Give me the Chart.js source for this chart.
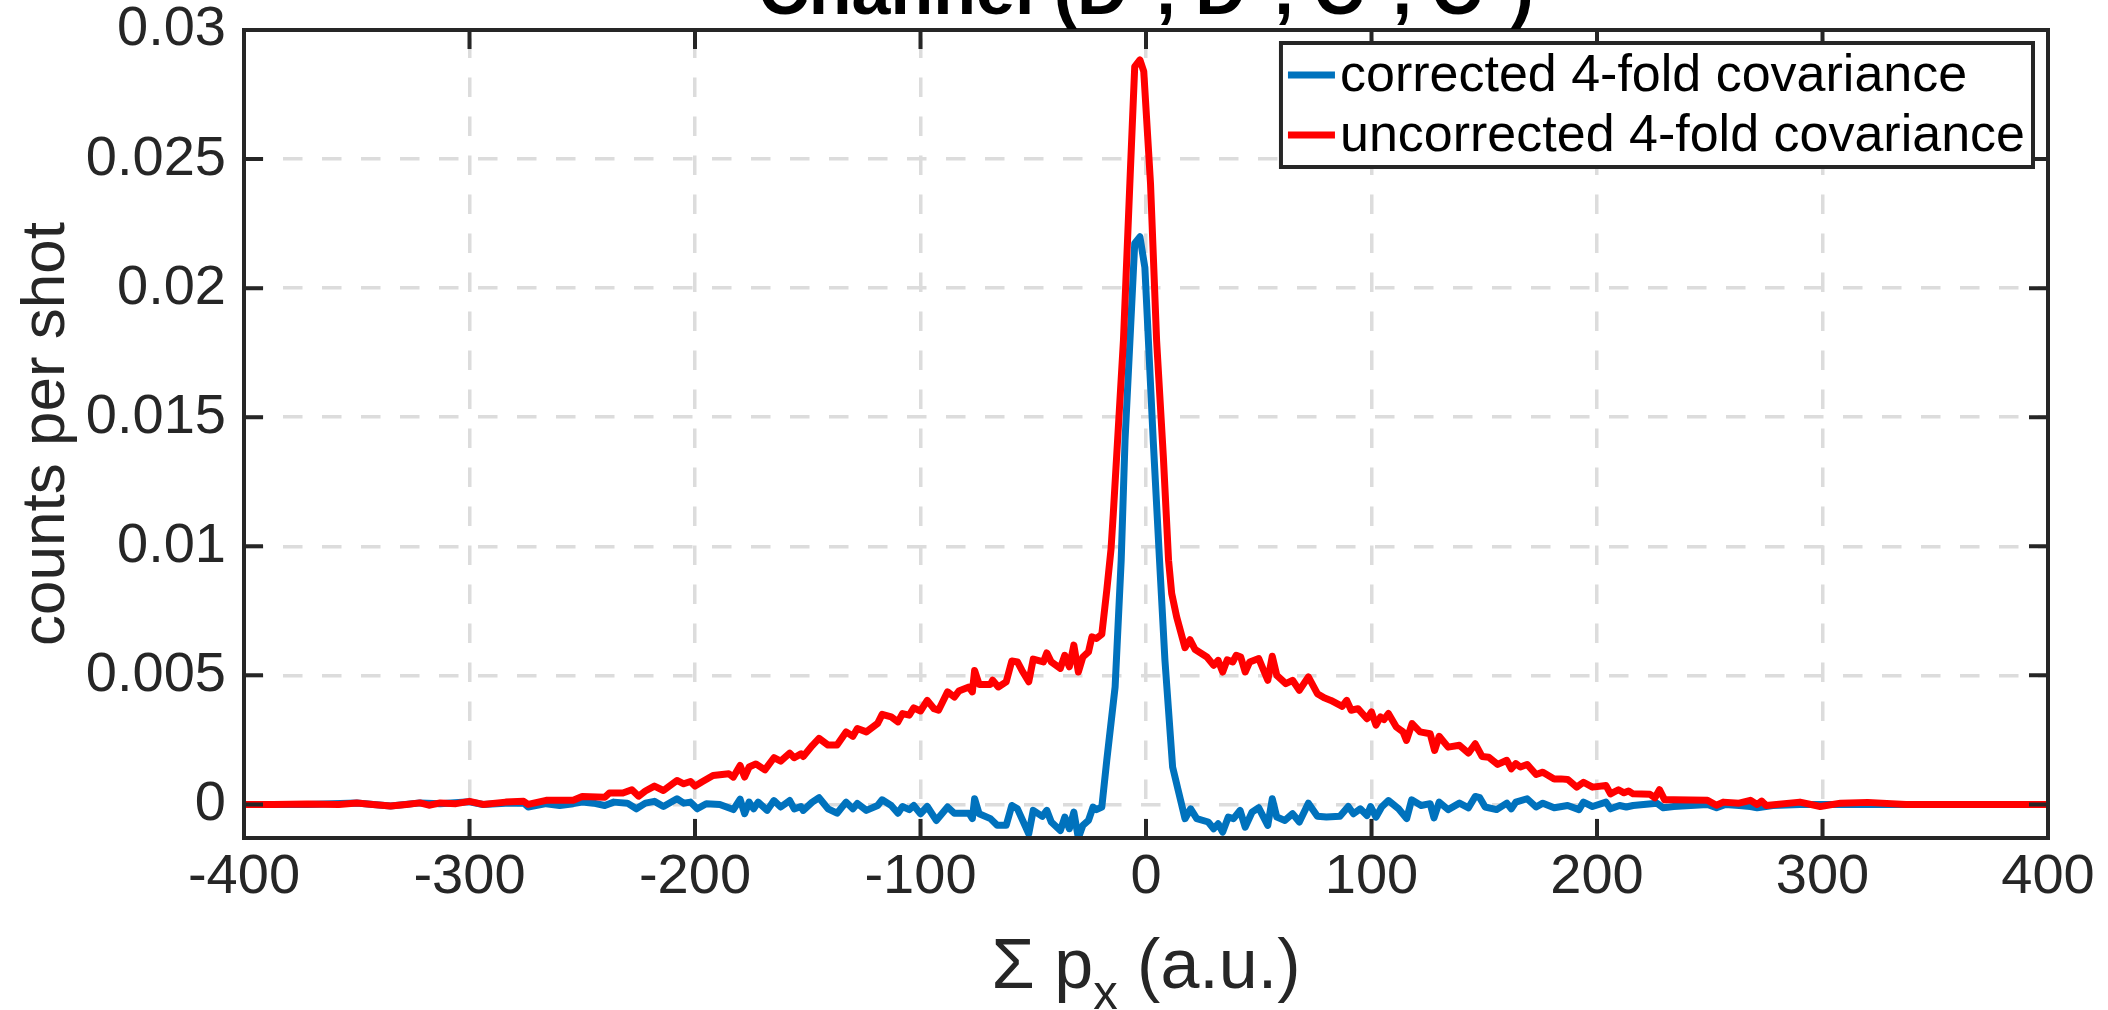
<!DOCTYPE html>
<html>
<head>
<meta charset="utf-8">
<title>Channel (D+, D+, C+, C+)</title>
<script src="https://cdn.jsdelivr.net/npm/chart.js@4.4.1/dist/chart.umd.min.js"></script>
<style>
  html, body { margin: 0; padding: 0; background: #fff; overflow: hidden; }
  #wrap { width: 2108px; height: 1010px; }
</style>
</head>
<body>
<div id="wrap"><canvas id="covChart" width="2108" height="1010"></canvas></div>
<script>
// axis ticks
const xTicks = [-400, -300, -200, -100, 0, 100, 200, 300, 400];
const xTickLabels = ['-400', '-300', '-200', '-100', '0', '100', '200', '300', '400'];
const yTicks = [0, 0.005, 0.01, 0.015, 0.02, 0.025, 0.03];
const yTickLabels = ['0', '0.005', '0.01', '0.015', '0.02', '0.025', '0.03'];

// series, y values in units of 1e-3 counts per shot
const correctedX = [-400,-372,-350,-335,-322,-313,-300,-294,-284,-276,
  -274,-266,-260,-254,-250,-245,-240,-236,-230,-226,
  -222,-218,-214,-208,-205,-202,-199,-195,-189,-183,
  -180,-178,-176,-174,-172,-168,-165,-162,-158,-156,
  -153,-152,-148,-145,-141,-137,-133,-130,-128,-124,
  -119,-117,-113,-110,-108,-105,-103,-100,-97,-93,
  -88,-85,-78.5,-77,-76,-74,-69,-66,-62,-59.5,
  -57,-52,-50,-46,-44,-42,-38,-36,-34,-32,
  -30,-28,-25.5,-23.5,-22,-19.6,-17.4,-13.7,-11,-9.3,
  -5,-2.7,-0.5,3.2,6,8.4,11.8,14.3,17.3,19.8,
  22.5,27.6,30,32,34,36.5,38.8,41.7,44,47,
  50,54,56,58,61.6,65,68,72,76,80,
  86,89.7,92,95,98,99.6,102,104.5,107.5,112,
  115.6,117.8,122,126,127.7,130,134,139,143,146,
  148,150.4,155.5,160,162,164,169,173,176,181,
  187,192,194,198,204,206,210,213,216,226.5,
  229.4,234,249,253,257,263,268,271,278,290,
  400];
const correctedY = [0,0,0.06,-0.06,0.06,0.03,0.1,0,0.05,0.06,
  -0.1,0.03,-0.04,0.03,0.09,0.05,-0.04,0.09,0.05,-0.17,
  0.05,0.12,-0.08,0.22,0.05,0.09,-0.17,0.03,0,-0.2,
  0.2,-0.36,0.09,-0.17,0.09,-0.23,0.15,-0.1,0.15,-0.17,
  -0.08,-0.23,0.09,0.26,-0.17,-0.34,0.09,-0.17,0.04,-0.23,
  -0.04,0.18,-0.04,-0.34,-0.08,-0.2,-0.04,-0.36,-0.08,-0.62,
  -0.1,-0.34,-0.34,-0.55,0.22,-0.36,-0.55,-0.81,-0.81,-0.04,
  -0.17,-1.14,-0.23,-0.46,-0.23,-0.68,-1.01,-0.49,-0.94,-0.3,
  -1.3,-0.81,-0.62,-0.1,-0.2,-0.1,1.71,4.55,9.46,14.1,
  21.73,21.99,20.8,14.1,9.46,5.58,1.45,0.54,-0.55,-0.17,
  -0.55,-0.68,-0.94,-0.75,-1.07,-0.49,-0.55,-0.23,-0.88,-0.3,
  -0.13,-0.81,0.22,-0.49,-0.62,-0.36,-0.68,0.05,-0.46,-0.49,
  -0.46,-0.08,-0.36,-0.17,-0.43,-0.08,-0.49,-0.1,0.15,-0.17,
  -0.55,0.18,-0.04,0.03,-0.52,0.09,-0.2,0.05,-0.13,0.31,
  0.26,-0.1,-0.2,0.05,-0.17,0.09,0.22,-0.1,0.05,-0.13,
  -0.04,-0.2,0.09,-0.08,0.09,-0.17,-0.04,-0.1,-0.04,0.05,
  -0.13,-0.08,0,-0.13,0,-0.04,-0.08,-0.13,-0.04,0,
  0];

const uncorrectedX = [-400,-387,-372,-358,-350,-343,-335,-328,-322,-318,
  -313,-306,-300,-294,-284,-276,-274,-266,-260,-254,
  -250,-240,-238,-232,-228,-225,-222,-218,-214,-208,
  -205,-202,-200,-197,-192,-185,-183,-180,-178,-176,
  -173,-169,-165,-162,-158,-156,-153,-152,-148,-145,
  -141,-137,-133,-130,-128,-124,-119,-117,-113,-110,
  -108,-105,-103,-100,-97,-94,-92,-88,-85,-83,
  -78.5,-77,-76,-74,-69,-68,-65.5,-62,-59.5,-57,
  -55,-52,-50,-45.5,-44,-42,-38,-36,-34,-32,
  -30,-28,-25.5,-24,-22,-19.6,-17.4,-15.5,-14.5,-10,
  -7,-5,-2.7,-1,2,4.7,7.7,10,11.4,13.6,
  17.3,19.5,21.8,27,30,32,34,36,38.5,40,
  42,44,46,50,54,56,58,62,65,68,
  72,76,79,82,87,89,91,94,98,100,
  102,104,105.5,107.5,111,114,115.5,118,121.5,126,
  128,130,134,139,143,146,149,152,156,160,
  162,164,166,169,173,176,181,184,187,191,
  194,198,204,206,209.5,212,214,216,223.5,225.7,
  227.7,230,234,249,253,256,263,268,271,273,
  275,290,299,308,320,337,367,400];
const uncorrectedY = [0,0,0.02,0,0.06,0,-0.06,0,0.06,-0.03,
  0.06,0.03,0.12,0,0.09,0.12,0,0.16,0.16,0.16,
  0.31,0.28,0.44,0.44,0.57,0.32,0.52,0.71,0.54,0.93,
  0.80,0.89,0.71,0.87,1.12,1.19,1.06,1.51,1.06,1.45,
  1.57,1.34,1.81,1.68,1.99,1.81,1.96,1.86,2.28,2.56,
  2.30,2.30,2.81,2.64,2.94,2.81,3.14,3.49,3.39,3.20,
  3.52,3.46,3.74,3.62,4.03,3.71,3.65,4.36,4.16,4.39,
  4.55,4.36,5.19,4.65,4.65,4.81,4.55,4.75,5.56,5.52,
  5.19,4.75,5.63,5.52,5.87,5.52,5.27,5.78,5.33,6.17,
  5.13,5.71,5.91,6.49,6.43,6.59,8.29,9.9,11.27,17.98,
  24.4,28.58,28.84,28.4,24.06,17.98,13.46,9.46,8.17,7.26,
  6.07,6.38,6.0,5.71,5.39,5.58,5.13,5.6,5.52,5.78,
  5.71,5.13,5.52,5.65,4.81,5.74,5.0,4.68,4.81,4.42,
  4.94,4.29,4.13,4.03,3.80,4.03,3.65,3.71,3.32,3.58,
  3.07,3.39,3.29,3.52,3.0,2.81,2.48,3.13,2.81,2.74,
  2.09,2.64,2.22,2.29,1.99,2.35,1.86,1.83,1.55,1.71,
  1.38,1.58,1.45,1.55,1.16,1.25,0.99,0.99,0.97,0.67,
  0.86,0.67,0.73,0.41,0.57,0.45,0.52,0.41,0.39,0.26,
  0.57,0.18,0.18,0.16,-0.03,0.09,0.05,0.16,0,0.13,
  -0.04,0.09,-0.08,0.05,0.08,0,0,0];

const FONT = "'Liberation Sans', Arial, Helvetica, sans-serif";
const AXIS_COLOR = '#262626';
const GRID_COLOR = '#dcdcdc';
const TICK_LEN = 19;

function toPoints(xs, ys) {
  return xs.map((x, i) => ({ x: x, y: ys[i] / 1000 }));
}

// draw pieces of text with optional sub/superscript, centred on cx
function drawRich(ctx, parts, cx, baseline, size, weight) {
  const fontFor = p => `${weight} ${p.sub || p.sup ? Math.round(size * 0.7) : size}px ${FONT}`;
  let total = 0;
  parts.forEach(p => { ctx.font = fontFor(p); total += ctx.measureText(p.t).width; });
  let x = cx - total / 2;
  parts.forEach(p => {
    ctx.font = fontFor(p);
    let dy = 0;
    if (p.sub) dy = size * 0.3;
    if (p.sup) dy = -size * 0.42;
    ctx.fillText(p.t, x, baseline + dy);
    x += ctx.measureText(p.t).width;
  });
}

const matlabLook = {
  id: 'matlabLook',
  afterDatasetsDraw(chart) {
    const { ctx, chartArea: a, scales: { x, y } } = chart;
    ctx.save();
    ctx.strokeStyle = AXIS_COLOR;
    ctx.lineWidth = 4;
    ctx.lineCap = 'butt';
    // inward ticks on all four sides
    ctx.beginPath();
    xTicks.forEach(v => {
      const px = x.getPixelForValue(v);
      ctx.moveTo(px, a.bottom); ctx.lineTo(px, a.bottom - TICK_LEN);
      ctx.moveTo(px, a.top); ctx.lineTo(px, a.top + TICK_LEN);
    });
    yTicks.forEach(v => {
      const py = y.getPixelForValue(v);
      ctx.moveTo(a.left, py); ctx.lineTo(a.left + TICK_LEN, py);
      ctx.moveTo(a.right, py); ctx.lineTo(a.right - TICK_LEN, py);
    });
    ctx.stroke();
    ctx.strokeRect(a.left, a.top, a.right - a.left, a.bottom - a.top);
    ctx.restore();
  },
  afterDraw(chart) {
    const { ctx, chartArea: a } = chart;
    const cx = (a.left + a.right) / 2;
    ctx.save();

    // title, mostly cut off by the top edge like in the figure
    ctx.fillStyle = '#000';
    ctx.textBaseline = 'alphabetic';
    drawRich(ctx, [
      { t: 'Channel (D' }, { t: '+', sup: true }, { t: ', D' }, { t: '+', sup: true },
      { t: ', C' }, { t: '+', sup: true }, { t: ', C' }, { t: '+', sup: true }, { t: ')' }
    ], cx, 14, 70, 'bold');

    // x axis label with subscript
    ctx.fillStyle = AXIS_COLOR;
    drawRich(ctx, [{ t: '\u03A3 p' }, { t: 'x', sub: true }, { t: ' (a.u.)' }], cx, 988, 70, 'normal');

    // legend box inside the axes, top right
    const sets = chart.data.datasets;
    const legSize = 52;
    ctx.font = `${legSize}px ${FONT}`;
    const textW = Math.max(...sets.map(d => ctx.measureText(d.label).width));
    const lineLen = 47;
    const w = 7 + lineLen + 5 + textW + 8;
    const h = 124;
    const right = a.right - 15;
    const left = right - w;
    const top = a.top + 13;
    ctx.fillStyle = '#fff';
    ctx.fillRect(left, top, w, h);
    ctx.strokeStyle = AXIS_COLOR;
    ctx.lineWidth = 4;
    ctx.strokeRect(left, top, w, h);
    ctx.textBaseline = 'middle';
    sets.forEach((d, i) => {
      const yy = top + 32 + i * 60;
      ctx.strokeStyle = d.borderColor;
      ctx.lineWidth = 7;
      ctx.beginPath();
      ctx.moveTo(left + 7, yy);
      ctx.lineTo(left + 7 + lineLen, yy);
      ctx.stroke();
      ctx.fillStyle = '#000';
      ctx.fillText(d.label, left + 7 + lineLen + 5, yy + 2);
    });
    ctx.restore();
  }
};

new Chart(document.getElementById('covChart'), {
  type: 'line',
  data: {
    datasets: [
      {
        label: 'corrected 4-fold covariance',
        data: toPoints(correctedX, correctedY),
        borderColor: '#0072BD',
        borderWidth: 7,
        pointRadius: 0,
        borderJoinStyle: 'round',
        tension: 0,
        order: 1
      },
      {
        label: 'uncorrected 4-fold covariance',
        data: toPoints(uncorrectedX, uncorrectedY),
        borderColor: '#FF0000',
        borderWidth: 7,
        pointRadius: 0,
        borderJoinStyle: 'round',
        tension: 0,
        order: 0
      }
    ]
  },
  options: {
    responsive: false,
    animation: false,
    events: [],
    layout: { padding: { left: 0, top: 30, right: 60, bottom: 0 } },
    plugins: {
      legend: { display: false },
      title: { display: false },
      tooltip: { enabled: false }
    },
    scales: {
      x: {
        type: 'linear',
        min: -400,
        max: 400,
        afterBuildTicks: s => { s.ticks = xTicks.map(v => ({ value: v })); },
        afterFit: s => { s.height = 172; s.paddingLeft = 0; s.paddingRight = 0; },
        ticks: {
          autoSkip: false,
          maxRotation: 0,
          padding: 6,
          color: AXIS_COLOR,
          font: { family: FONT, size: 56 },
          callback: (v, i) => xTickLabels[i]
        },
        grid: { color: GRID_COLOR, lineWidth: 3.5, drawTicks: false },
        border: { display: false, dash: [19.5, 19.5], dashOffset: 30.5 }
      },
      y: {
        type: 'linear',
        min: -0.0013,
        max: 0.03,
        afterBuildTicks: s => { s.ticks = yTicks.map(v => ({ value: v })); },
        afterFit: s => { s.width = 244; s.paddingTop = 0; s.paddingBottom = 0; },
        ticks: {
          padding: 18,
          color: AXIS_COLOR,
          font: { family: FONT, size: 56 },
          callback: (v, i) => yTickLabels[i]
        },
        grid: { color: GRID_COLOR, lineWidth: 3.5, drawTicks: false },
        border: { display: false, dash: [19.5, 19.5] },
        title: {
          display: true,
          text: 'counts per shot',
          color: AXIS_COLOR,
          font: { family: FONT, size: 62 },
          padding: { top: 10, bottom: 0 }
        }
      }
    }
  },
  plugins: [matlabLook]
});
</script>
</body>
</html>
